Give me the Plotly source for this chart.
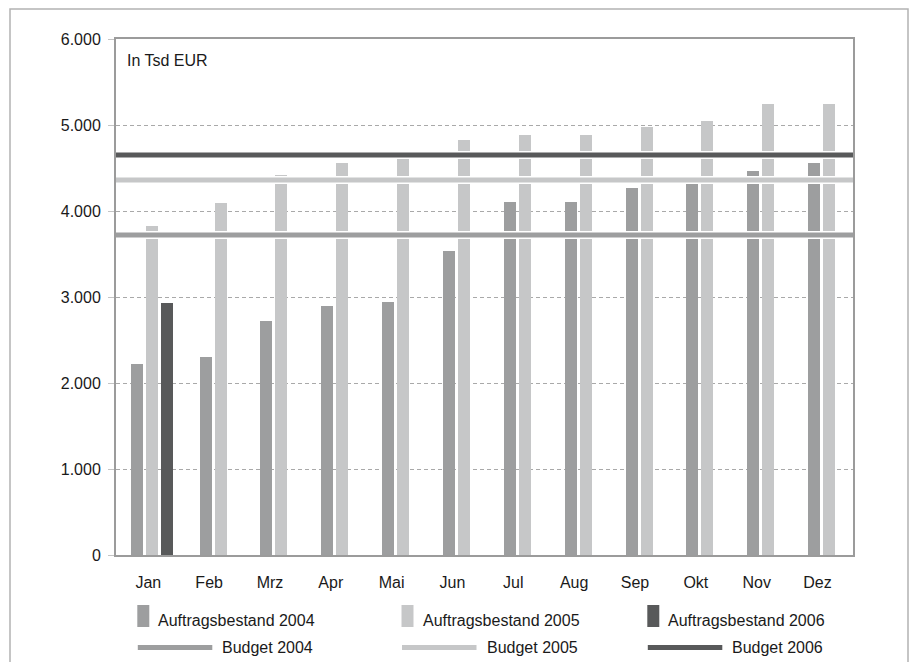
import plotly.graph_objects as go

# ---- data -------------------------------------------------------------
months = ["Jan", "Feb", "Mrz", "Apr", "Mai", "Jun",
          "Jul", "Aug", "Sep", "Okt", "Nov", "Dez"]

bestand_2004 = [2220, 2300, 2720, 2900, 2940, 3540,
                4100, 4100, 4270, 4340, 4470, 4560]
bestand_2005 = [3820, 4090, 4420, 4560, 4600, 4820,
                4880, 4880, 4980, 5050, 5240, 5240]
bestand_2006 = [2930, None, None, None, None, None,
                None, None, None, None, None, None]

budget_2004 = 3720
budget_2005 = 4360
budget_2006 = 4650

bar_names = ["Auftragsbestand 2004", "Auftragsbestand 2005", "Auftragsbestand 2006"]
line_names = ["Budget 2004", "Budget 2005", "Budget 2006"]
y_ticks = [0, 1000, 2000, 3000, 4000, 5000, 6000]

# ---- styling ----------------------------------------------------------
C04, C05, C06 = "#9d9e9f", "#c6c7c8", "#58595a"
FONT = "Liberation Sans, Arial, Helvetica, sans-serif"
FS = 16
TXT = "#1a1a1a"

W, H = 915, 662
L, R, T, B = 116, 853, 39, 555          # plot area in pixels
X_RANGE = [-0.531, 11.583]
PX_PER_UNIT = (R - L) / (X_RANGE[1] - X_RANGE[0])
BAR_PX, GAP_PX, SHIFT_PX = 12, 3, 4


def px_x(px):
    return (px - L) / (R - L)


def px_y(py):
    return (B - py) / (B - T)


# bars of the series present in a month sit side by side, centred on the month
series = [bestand_2004, bestand_2005, bestand_2006]
colors = [C04, C05, C06]
offsets = [[None] * len(months) for _ in series]
for m in range(len(months)):
    present = [s for s in range(len(series)) if series[s][m] is not None]
    total = len(present) * BAR_PX + (len(present) - 1) * GAP_PX
    start = SHIFT_PX - total / 2
    for k, s in enumerate(present):
        offsets[s][m] = (start + k * (BAR_PX + GAP_PX)) / PX_PER_UNIT

fig = go.Figure()
xs = list(range(len(months)))
for s, vals in enumerate(series):
    off = [o if o is not None else 0 for o in offsets[s]]
    fig.add_trace(go.Bar(
        x=xs, y=vals, name=bar_names[s], marker_color=colors[s],
        marker_line_width=0, width=BAR_PX / PX_PER_UNIT, offset=off,
        showlegend=False,
    ))

# budget lines with a thin white halo
for val, col, name in zip([budget_2004, budget_2005, budget_2006],
                          [C04, C05, C06], line_names):
    fig.add_trace(go.Scatter(x=X_RANGE, y=[val, val], mode="lines",
                             line=dict(color="white", width=8),
                             hoverinfo="skip", showlegend=False))
    fig.add_trace(go.Scatter(x=X_RANGE, y=[val, val], mode="lines", name=name,
                             line=dict(color=col, width=5), showlegend=False))

shapes = []
annotations = []

# outer frame (runs off the bottom edge)
shapes.append(dict(type="rect", xref="paper", yref="paper",
                   x0=px_x(10), x1=px_x(908), y0=px_y(700), y1=px_y(9),
                   line=dict(color="#b3b3b3", width=1.5), layer="below"))

# custom legend
col_x = [137.3, 401.5, 647.3]
for i in range(3):
    cx = col_x[i]
    shapes.append(dict(type="rect", xref="paper", yref="paper",
                       x0=px_x(cx), x1=px_x(cx + 12), y0=px_y(627), y1=px_y(605),
                       fillcolor=colors[i], line_width=0))
    annotations.append(dict(xref="paper", yref="paper", x=px_x(cx + 19), y=px_y(620),
                            text=bar_names[i], showarrow=False, xanchor="left",
                            yanchor="middle", font=dict(family=FONT, size=FS, color=TXT)))
    shapes.append(dict(type="line", xref="paper", yref="paper",
                       x0=px_x(cx + 0.5), x1=px_x(cx + 75), y0=px_y(647.5), y1=px_y(647.5),
                       line=dict(color=colors[i], width=5)))
    annotations.append(dict(xref="paper", yref="paper", x=px_x(cx + 83), y=px_y(648),
                            text=line_names[i], showarrow=False, xanchor="left",
                            yanchor="middle", font=dict(family=FONT, size=FS, color=TXT)))

annotations.append(dict(xref="paper", yref="paper", x=px_x(125), y=px_y(61),
                        text="In Tsd EUR", showarrow=False, xanchor="left",
                        yanchor="middle", font=dict(family=FONT, size=FS, color=TXT)))

fig.update_layout(
    width=W, height=H,
    margin=dict(l=L, r=W - R, t=T, b=H - B, pad=0),
    paper_bgcolor="white", plot_bgcolor="white",
    barmode="overlay", bargap=0,
    separators=",.",
    font=dict(family=FONT, size=FS, color=TXT),
    shapes=shapes, annotations=annotations,
    showlegend=False,
)
fig.update_xaxes(
    range=X_RANGE, tickmode="array", tickvals=xs, ticktext=months,
    showgrid=False, zeroline=False, ticks="", ticklabelstandoff=12,
    showline=True, linecolor="#9b9b9b", linewidth=2, mirror=True,
    tickfont=dict(family=FONT, size=FS, color=TXT),
)
fig.update_yaxes(
    range=[0, 6000], tickmode="array", tickvals=y_ticks, tickformat=",d",
    showgrid=True, gridcolor="#a9a9a9", gridwidth=1, griddash="4px,3px",
    zeroline=False, ticks="outside", ticklen=6, tickcolor="#c4c4c4",
    ticklabelstandoff=4,
    showline=True, linecolor="#9b9b9b", linewidth=2, mirror=True,
    tickfont=dict(family=FONT, size=FS, color=TXT),
)

fig.write_html("out.html")
